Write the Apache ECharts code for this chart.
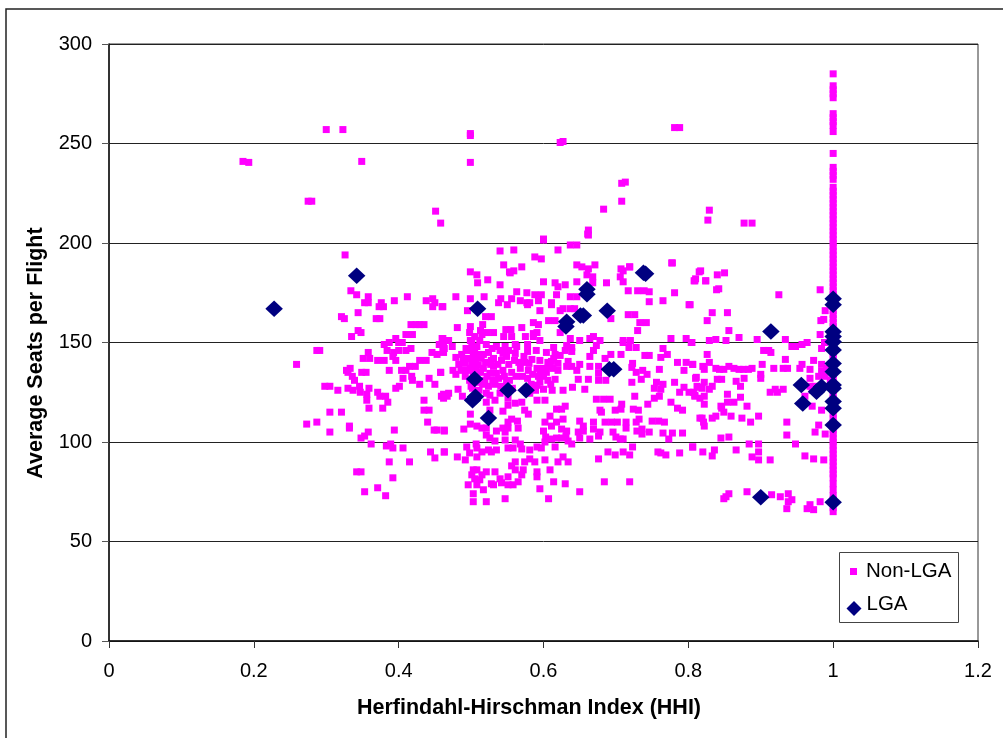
<!DOCTYPE html>
<html><head><meta charset="utf-8">
<style>html,body{margin:0;padding:0;background:#fff}#c{width:1003px;height:738px}</style>
<script src="https://cdn.jsdelivr.net/npm/echarts@6/dist/echarts.min.js"></script>
</head><body><div id="c"></div>
<script>
const xTicksMax = 1.2, yTicksMax = 300;
const xTitle = 'Herfindahl-Hirschman Index (HHI)';
const yTitle = 'Average Seats per Flight';
const seriesNames = ['Non-LGA','LGA'];

const nonLgaTop = [[.300,257],[.323,257],[.499,255],[.499,254],[.627,251],[.623,250.5],[.185,241],[.193,240.5],[.349,241],[.499,240.5],[.275,221],[.280,221],[.708,230],[.713,230.6],[.451,216],[.458,210],[.708,221],[.683,217],[.662,206.5],[.662,204],[.600,202],[.781,258],[.788,258],[.829,216.5],[.827,211.5],[.877,210],[.888,210],[.777,190],[.817,186],[.840,184],[.850,185],[.810,182],[.824,181],[.719,188],[.710,186]];

const nonLgaLeft = [[.326,194],[.334,176],[.342,174],[.358,173],[.353,170],[.358,170],[.376,170],[.373,168],[.379,168],[.394,171],[.412,173],[.438,171],[.447,172],[.447,168],[.450,170],[.460,168],[.321,163],[.325,162],[.344,165],[.369,162],[.374,162],[.417,159],[.424,159],[.429,159],[.435,159],[.410,154],[.419,154],[.344,156],[.348,155],[.335,153],[.396,152],[.400,150],[.405,150],[.380,149],[.387,150],[.384,146],[.400,146],[.393,145],[.410,146],[.417,147],[.460,152],[.468,151],[.456,149],[.463,147],[.462,145],[.453,144],[.446,145],[.287,146],[.291,146],[.358,145],[.351,142],[.360,142],[.371,141],[.380,141],[.392,143],[.396,141],[.429,141],[.438,141],[.259,139],[.423,138],[.415,138],[.404,136],[.410,136],[.387,136],[.328,136],[.333,137],[.330,135],[.349,135],[.355,135],[.458,135],[.442,132],[.406,132],[.418,133],[.419,131],[.336,133],[.339,131],[.429,129],[.450,129],[.298,128],[.305,128],[.401,128],[.396,127],[.330,127],[.346,128],[.337,126],[.347,125],[.359,127],[.356,124],[.316,126],[.371,125],[.374,123],[.382,123],[.462,124],[.467,123],[.462,122],[.356,121],[.385,120],[.435,121],[.359,117],[.378,117],[.435,116],[.442,116],[.305,115],[.321,115],[.287,110],[.273,109],[.440,110],[.332,108],[.332,107],[.305,105],[.394,106],[.358,105],[.353,103],[.348,102],[.449,106],[.453,106],[.463,106],[.362,99],[.383,98],[.389,99],[.392,97],[.406,97],[.444,95],[.463,95],[.450,92],[.387,90],[.415,90],[.342,85],[.348,85],[.392,82],[.371,77],[.353,75],[.382,73]];

const nonLgaMidUpper = [[.600,201.5],[.661,204.5],[.637,199],[.646,199],[.540,196],[.559,196.5],[.620,196.5],[.588,193],[.597,192],[.545,189],[.570,188],[.646,189],[.653,188],[.662,187],[.671,189],[.707,187],[.719,188],[.778,190],[.499,185.5],[.508,184],[.509,180],[.523,181.5],[.553,185.5],[.559,186],[.554,185],[.660,184],[.668,183],[.706,183],[.710,180.5],[.600,180.5],[.540,179],[.616,180],[.620,178],[.630,179],[.646,180.5],[.668,180],[.687,180],[.809,181],[.815,185.5],[.717,176],[.730,176],[.739,176],[.746,175.5],[.781,175],[.563,175.5],[.577,175],[.588,174],[.597,174],[.618,174],[.479,173],[.499,172],[.518,173],[.541,172],[.556,172],[.637,173],[.646,173],[.461,168],[.538,170],[.550,169],[.568,171],[.577,170],[.581,170],[.578,169],[.593,171],[.611,170],[.611,169],[.746,170.5],[.765,171],[.801,169],[.595,166],[.623,166],[.627,167],[.637,167],[.643,167],[.495,166],[.520,163],[.528,163],[.693,162],[.717,164],[.726,164],[.586,160],[.593,159],[.607,161],[.616,161],[.733,160],[.742,160],[.730,156],[.481,157.5],[.499,158],[.516,159],[.513,156],[.498,155],[.505,153],[.515,154],[.522,155],[.531,155],[.548,156.5],[.555,156.5],[.545,153],[.556,153],[.570,157.5],[.591,155],[.575,153],[.586,153],[.595,151],[.586,154.5],[.623,155],[.637,152],[.650,151],[.664,152],[.669,153],[.678,151],[.710,151],[.720,151],[.710,150],[.776,152],[.797,152],[.804,150]];

const nonLgaMidCore = [[.461,152],[.469,151],[.462,149],[.474,148],[.461,145.5],[.501,149.5],[.508,148],[.501,146],[.510,144],[.503,143],[.479,142.5],[.489,142],[.521,149],[.524,145],[.535,148],[.547,148],[.544,144.5],[.561,149],[.563,148],[.561,144.5],[.531,142],[.549,143],[.578,149],[.578,145.5],[.590,146],[.604,145],[.614,147.5],[.616,144],[.623,143.5],[.630,146],[.632,148.5],[.639,147.5],[.639,145.5],[.673,148.5],[.669,146],[.664,143],[.685,142],[.693,144],[.707,144],[.718,147.5],[.728,147.5],[.765,147],[.771,144],[.762,142.5],[.740,143.5],[.746,143.5],[.584,141.5],[.580,139.5],[.595,141],[.611,140.5],[.620,139.5],[.609,138],[.634,140.5],[.632,138],[.639,138],[.650,139],[.492,139.5],[.501,139.5],[.510,138.5],[.494,136],[.503,134.5],[.517,137],[.531,138],[.526,134.5],[.535,134.5],[.544,136],[.556,135],[.568,137],[.579,136],[.591,137],[.475,136],[.479,134],[.458,135],[.604,135],[.600,133],[.616,131.5],[.595,130],[.646,136],[.648,131.5],[.662,131.5],[.664,138],[.676,138],[.676,134.5],[.676,131],[.686,131],[.723,139.5],[.722,137.5],[.737,136],[.743,134],[.735,131.5],[.728,135],[.722,130],[.760,136.5],[.785,140],[.797,140],[.806,139],[.794,136],[.811,132.5],[.756,130],[.765,129],[.781,130],[.753,127],[.762,126.5],[.794,127.5],[.788,125],[.801,125],[.812,128],[.809,123.5],[.760,123],[.753,122],[.640,127.5],[.657,126.5],[.627,126],[.612,126],[.600,126.5],[.591,128.5],[.581,124.5],[.591,121],[.602,121],[.570,120],[.482,126.5],[.464,123.5],[.469,124.5],[.459,123],[.488,123],[.521,124.5],[.521,120],[.533,121],[.526,123.5],[.540,124.5],[.551,122],[.551,118.5],[.561,119.5],
[.496,146],[.499,151],[.505,147],[.512,151],[.497,142],[.506,141],[.514,142],[.520,140],[.528,141],[.537,139],[.499,137],[.507,137],[.513,135],[.522,133],[.530,131],[.538,132],[.546,133],[.553,131],[.562,133],[.571,133],[.578,132],[.585,134],[.593,133],[.600,137],[.606,140],[.614,142],[.620,136],[.498,131],[.508,130],[.516,129],[.524,128],[.533,129],[.541,128],[.549,130],[.557,127],[.492,133],[.486,136],[.483,139],[.487,144],[.493,147],[.502,127],[.511,126],[.519,131],[.527,139],[.542,141],[.552,139],[.560,141],[.573,143],[.566,140],[.574,140],[.529,147],[.540,146],[.552,146],[.517,144],[.504,132],[.500,128],[.583,129],[.589,126],[.606,131],[.610,129],[.595,135],[.613,137]];

const nonLgaMidLower = [[.673,121.5],[.683,121.5],[.692,121.5],[.726,123],[.744,119],[.776,120],[.785,117],[.792,116],[.708,119],[.707,116.5],[.699,116],[.678,116],[.680,115],[.724,116.5],[.731,116],[.618,116.5],[.625,116.5],[.630,118],[.574,116],[.579,114],[.544,115.5],[.499,114],[.526,116],[.609,113],[.602,110],[.618,110],[.627,111.5],[.611,108],[.650,110.5],[.655,108],[.669,110],[.685,110],[.694,110],[.702,110],[.714,110],[.714,107],[.732,111.5],[.728,110],[.750,110.5],[.759,110.5],[.767,110],[.816,112],[.551,110],[.556,111.5],[.564,110.5],[.565,107],[.544,107],[.551,107],[.547,105],[.535,105.5],[.499,109],[.508,108],[.515,107],[.521,107],[.490,106.5],[.463,105.5],[.521,103.5],[.526,102],[.533,100.5],[.600,105.5],[.625,106.5],[.632,105.5],[.648,105],[.655,105.5],[.669,106.5],[.678,105],[.676,103],[.650,102],[.664,101.5],[.631,103],[.625,102],[.618,102],[.611,101.5],[.603,102.5],[.602,100],[.634,100.5],[.639,99],[.696,105],[.700,102.5],[.706,101.5],[.710,101.5],[.729,105.5],[.736,106.5],[.736,104],[.746,105],[.765,104.5],[.778,104.5],[.773,101.5],[.792,104.5],[.547,101],[.561,101],[.568,99],[.551,97],[.558,97],[.570,96.5],[.581,96],[.591,97.5],[.597,97],[.616,97.5],[.507,99],[.494,97.5],[.508,97],[.498,94.5],[.515,95],[.524,96],[.535,96],[.528,95],[.508,92.5],[.481,92.5],[.492,91],[.463,95],[.723,97.5],[.689,95],[.699,93.5],[.710,95],[.719,93.5],[.758,95],[.762,94.5],[.769,93.5],[.788,94.5],[.806,97.5],[.627,92.5],[.620,90],[.634,90],[.676,91.5],[.602,91],[.588,90],[.581,91.5],[.574,90],[.561,90],[.556,88],[.572,86],[.561,86],[.570,83.5],[.609,86],[.591,85],[.591,82.5],[.503,86],[.508,86],[.501,83.5],[.515,83.5],[.521,85],[.533,85],[.505,81.5],[.512,81],[.496,78.5],[.508,78.5],[.528,79],[.540,81.5],[.551,82.5],[.542,79.5],[.551,78.5],[.558,78.5],[.565,80],[.531,78.5],[.517,76],[.614,80],[.630,79],[.684,80],[.719,80],[.595,76.5],[.650,75],[.503,74],[.547,71.5],[.503,70],[.521,70],[.607,71.5]];

const nonLgaRight = [[.808,181],[.824,181],[.842,177],[.839,176.5],[.925,174],[.982,176.5],[.8025,169],[.833,165],[.854,165],[.826,161],[.989,166],[.987,161.6],[.983,161],[.856,156],[.870,152.5],[.829,151],[.838,151.5],[.852,151],[.805,150],[.895,151.5],[.934,151.5],[.943,148],[.948,148],[.957,149],[.964,150],[.982,154],[.984,147],[.988,150],[.826,144],[.904,146],[.911,146],[.914,145],[.934,141.5],[.973,141],[.806,139],[.820,138],[.829,140],[.822,136.5],[.838,137],[.843,136.5],[.849,136.5],[.856,138],[.863,137],[.870,136.5],[.876,136.5],[.883,136.5],[.888,137],[.902,139],[.918,137],[.931,137],[.937,137],[.954,137],[.957,139],[.968,136.5],[.984,139],[.991,137],[.984,135.5],[.980,133],[.989,133],[.996,131],[.810,132],[.840,131.5],[.846,131.5],[.866,130.5],[.877,132],[.900,134],[.900,132],[.968,132],[.968,128],[.822,130],[.872,128],[.833,128],[.813,127.5],[.819,127],[.829,126.5],[.807,125],[.809,123],[.822,123],[.816,122],[.931,126.5],[.920,126.5],[.913,125],[.923,125],[.975,128],[.971,126],[.961,123],[.854,124],[.872,122.5],[.854,120],[.863,120],[.822,119],[.881,118],[.845,118],[.849,115],[.846,117],[.971,118],[.984,116],[.859,113],[.838,113],[.833,112],[.819,112],[.821,110],[.822,108],[.874,112],[.897,113],[.886,110],[.936,110],[.980,108.5],[.975,105],[.936,103.5],[.989,104],[.856,102.5],[.845,102],[.884,99],[.897,99],[.948,99],[.806,97.5],[.820,95],[.836,96],[.833,93],[.866,96],[.897,95],[.888,92.5],[.897,91],[.913,91],[.961,93],[.973,91.5],[.987,91],[.856,74],[.852,72.5],[.849,71.5],[.881,75],[.915,73.5],[.927,72.5],[.938,74],[.943,71],[.938,70],[.936,66.5],[.964,66.5],[.968,68.5],[.973,66],[.982,70]];

const hhiOneSeats = [285,279,277,275,273,265,263,261,259,256,245,238,236,234,232,228,226,224,222,220,218,216,214,212,210,208,206,204,202,200,198,196,194,192,190,188,186,184,182,180,178,176,174,172,170,168,166,164,162,160,158,156,154,152,150,148,146,144,142,140,138,136,134,132,130,128,126,124,122,120,118,116,114,112,110,108,106,104,102,100,98,96,94,92,90,88,86,84,82,79,76,73,71,69,67,65];

const lgaOffOne = [[.228,167],[.342,183.5],[.509,167],[.660,176.7],[.660,174.3],[.738,185],[.741,184.5],[.651,163.6],[.655,163.6],[.688,166],[.632,160.4],[.631,158],[.505,131.6],[.502,121],[.506,122.7],[.551,126],[.576,126],[.524,112],[.691,136.5],[.697,136.5],[.914,155.5],[.956,128.6],[.958,119.4],[.900,72.2],[.977,125.3],[.984,127.8]];
const lgaOneSeats = [172,169,155.4,153,150.4,146.2,139.5,135.3,128.6,127,120.3,117,108.5,69.7];

const nonLgaData = [].concat(nonLgaTop, nonLgaLeft, nonLgaMidUpper, nonLgaMidCore, nonLgaMidLower, nonLgaRight, hhiOneSeats.map(s => [1, s]));
const lgaData = lgaOffOne.concat(lgaOneSeats.map(s => [1, s]));

const font = '"Liberation Sans", Arial, sans-serif';
const axisLine = {show:true, lineStyle:{color:'#111', width:1.5}};
const chart = echarts.init(document.getElementById('c'), null, {renderer:'canvas'});
chart.setOption({
  animation:false,
  backgroundColor:'#fff',
  grid:{left:109, top:44, width:869, height:597, show:true, borderColor:'#333', borderWidth:1, backgroundColor:'transparent'},
  xAxis:{type:'value', min:0, max:xTicksMax, interval:0.2,
    name:xTitle, nameLocation:'middle', nameGap:56,
    nameTextStyle:{fontFamily:font, fontSize:21.5, fontWeight:'bold', color:'#000', padding:[0,29,0,0]},
    axisLine, axisTick:{show:true, length:7, lineStyle:{color:'#333'}},
    axisLabel:{fontFamily:font, fontSize:20, color:'#000', margin:20},
    splitLine:{show:false}},
  yAxis:{type:'value', min:0, max:yTicksMax, interval:50,
    name:yTitle, nameLocation:'middle', nameGap:62,
    nameTextStyle:{fontFamily:font, fontSize:21.5, fontWeight:'bold', color:'#000', padding:[0,21,0,0]},
    axisLine, axisTick:{show:true, length:7, lineStyle:{color:'#555'}},
    axisLabel:{fontFamily:font, fontSize:20, color:'#000', margin:17},
    splitLine:{show:true, lineStyle:{color:'#222', width:1}}},
  legend:[
    {left:850, top:561, padding:0, itemWidth:7, itemHeight:7, itemGap:0, data:[{name:seriesNames[0], icon:'rect'}],
     selectedMode:false, textStyle:{fontFamily:font, fontSize:20.5, color:'#000', padding:[0,0,0,4]}},
    {left:846.5, top:594, padding:0, itemWidth:15, itemHeight:15, itemGap:0, data:[{name:seriesNames[1], icon:'diamond'}],
     formatter:n => '{t|' + n + '}',
     selectedMode:false, textStyle:{rich:{t:{fontFamily:font, fontSize:20.5, color:'#000', padding:[0,0,8,0]}}}}
  ],
  graphic:[
    {type:'polyline', silent:true, z:0, shape:{points:[[6,745],[6,9],[1010,9]]}, style:{stroke:'#222', lineWidth:1.5, fill:null}},
    {type:'rect', silent:true, z:1, shape:{x:839.5,y:552.5,width:119,height:70}, style:{stroke:'#444', lineWidth:1, fill:'#fff'}}
  ],
  series:[
    {name:seriesNames[0], type:'scatter', symbol:'rect', symbolSize:7, data:nonLgaData, itemStyle:{color:'#FF00FF', opacity:1}, large:false, silent:true, z:3},
    {name:seriesNames[1], type:'scatter', symbol:'diamond', symbolSize:[17.5,16.5], data:lgaData, itemStyle:{color:'#000080', opacity:1}, large:false, silent:true, z:4}
  ]
});
</script></body></html>
